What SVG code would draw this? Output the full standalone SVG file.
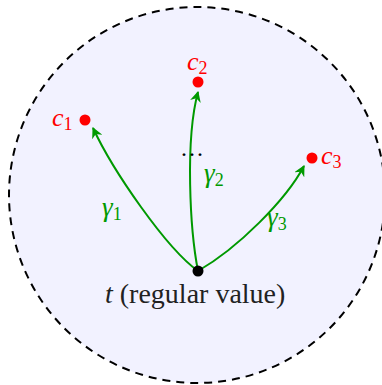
<svg xmlns="http://www.w3.org/2000/svg" width="382" height="385" viewBox="0 0 382 385">
<style>
.edge{fill:none;stroke:#009900;stroke-width:2}
.crit{fill:#ff0000}
.lab{font-family:"Liberation Serif","DejaVu Serif",serif;font-style:italic}
.txt{font-family:"Liberation Serif","DejaVu Serif",serif}
.red{fill:#ff0000}
.grn{fill:#009900}
</style>
<defs>
<marker id="arr" viewBox="0 0 10 10" refX="9" refY="5" markerWidth="5.5" markerHeight="5.5" orient="auto" markerUnits="strokeWidth">
<path d="M0,0 L10,5 L0,10 L3,5 Z" fill="#009900"/>
</marker>
</defs>
<g id="disk">
<circle cx="197" cy="195" r="188" fill="#f2f2ff" stroke="#000" stroke-width="2" stroke-dasharray="8,6"/>
</g>
<g id="connectors">
<path id="gamma1" class="edge" marker-end="url(#arr)" d="M198,271 C166,248 113,171 93,128"/>
<path id="gamma2" class="edge" marker-end="url(#arr)" d="M198,271 C190,230 185,140 198,92"/>
<path id="gamma3" class="edge" marker-end="url(#arr)" d="M198,271 C238,248 286,200 304,166"/>
<text class="lab grn" x="102" y="216" font-size="27">γ<tspan class="txt" font-size="18" font-style="normal" dy="4">1</tspan></text>
<text class="lab grn" x="204" y="182" font-size="27">γ<tspan class="txt" font-size="18" font-style="normal" dy="4">2</tspan></text>
<text class="lab grn" x="267" y="226" font-size="27">γ<tspan class="txt" font-size="18" font-style="normal" dy="4">3</tspan></text>
</g>
<g id="c1">
<circle class="crit" cx="85" cy="120" r="5.5"/>
<text class="lab red" x="52" y="126" font-size="26">c<tspan class="txt" font-size="18" font-style="normal" dy="4">1</tspan></text>
</g>
<g id="c2">
<circle class="crit" cx="198" cy="82" r="5.5"/>
<text class="lab red" x="187" y="70" font-size="26">c<tspan class="txt" font-size="18" font-style="normal" dy="4">2</tspan></text>
</g>
<g id="c3">
<circle class="crit" cx="312" cy="158" r="5.5"/>
<text class="lab red" x="321" y="164" font-size="26">c<tspan class="txt" font-size="18" font-style="normal" dy="4">3</tspan></text>
</g>
<g id="dots">
<text class="txt" x="180" y="162" font-size="24" fill="#000">···</text>
</g>
<g id="t">
<circle cx="198" cy="271" r="5.5" fill="#000"/>
<text class="txt" x="105" y="303" font-size="28" fill="#222"><tspan font-style="italic">t</tspan> (regular value)</text>
</g>
</svg>
